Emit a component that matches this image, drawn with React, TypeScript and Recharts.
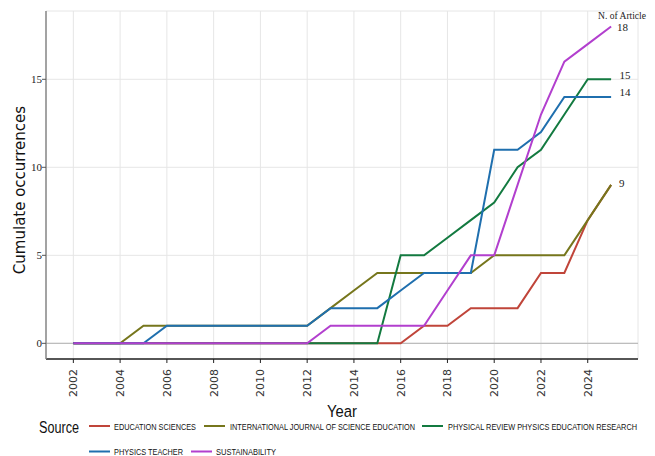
import {
  CartesianGrid,
  Customized,
  LabelList,
  Legend,
  Line,
  LineChart,
  ReferenceLine,
  XAxis,
  YAxis,
} from "recharts";

const years = [
  2002, 2003, 2004, 2005, 2006, 2007, 2008, 2009, 2010, 2011, 2012, 2013, 2014, 2015, 2016, 2017, 2018,
  2019, 2020, 2021, 2022, 2023, 2024, 2025,
];

const educationSciences = [0, 0, 0, 0, 0, 0, 0, 0, 0, 0, 0, 0, 0, 0, 0, 1, 1, 2, 2, 2, 4, 4, 7, 9];
const intJournalSciEd = [0, 0, 0, 1, 1, 1, 1, 1, 1, 1, 1, 2, 3, 4, 4, 4, 4, 4, 5, 5, 5, 5, 7, 9];
const physRevPhysEd = [0, 0, 0, 0, 0, 0, 0, 0, 0, 0, 0, 0, 0, 0, 5, 5, 6, 7, 8, 10, 11, 13, 15, 15];
const physicsTeacher = [0, 0, 0, 0, 1, 1, 1, 1, 1, 1, 1, 2, 2, 2, 3, 4, 4, 4, 11, 11, 12, 14, 14, 14];
const sustainability = [0, 0, 0, 0, 0, 0, 0, 0, 0, 0, 0, 1, 1, 1, 1, 1, 3, 5, 5, 9, 13, 16, 17, 18];

const xTicks = [2002, 2004, 2006, 2008, 2010, 2012, 2014, 2016, 2018, 2020, 2022, 2024];
const yTicks = [0, 5, 10, 15];

const data = years.map((year, i) => ({
  year,
  edu: educationSciences[i],
  ijse: intJournalSciEd[i],
  prper: physRevPhysEd[i],
  pt: physicsTeacher[i],
  sust: sustainability[i],
}));

// legend layout (swatch start x, text start x, text width, row)
const legendLayout = [
  { sx: 89, tx: 114, tw: 82, row: 0 },
  { sx: 204, tx: 230, tw: 185, row: 0 },
  { sx: 422, tx: 448, tw: 189, row: 0 },
  { sx: 89, tx: 114, tw: 69, row: 1 },
  { sx: 191, tx: 216, tw: 60, row: 1 },
];
const squeeze = 0.7;

const serif = "'Liberation Serif', 'Times New Roman', serif";
const narrow = "'Liberation Sans Narrow', 'Liberation Sans', Arial, sans-serif";

const XTick = ({ x, y, payload }: any) => (
  <text
    transform={`translate(${x + 4},${y + 4}) rotate(-90)`}
    textAnchor="end"
    fontSize={11}
    fontFamily="'DejaVu Sans', sans-serif"
    fill="#333"
  >
    {payload.value}
  </text>
);

const endLabel = (dx: number, dy: number) => (props: any) => {
  const { x, y, value, index } = props;
  if (index !== years.length - 1) return null;
  return (
    <text x={x + dx} y={y + dy} dy="0.35em" fontSize={11} fontFamily={serif} fill="#222">
      {value}
    </text>
  );
};

const renderLegend = (props: any) => {
  const { payload = [] } = props;
  return (
    <svg width={655} height={56} style={{ display: "block" }}>
      <text
        transform={`translate(39,33) scale(0.75,1)`}
        fontSize={16}
        fontFamily={narrow}
        fill="#111"
        textLength={40 / 0.75}
        lengthAdjust="spacingAndGlyphs"
      >
        Source
      </text>
      {payload.map((p: any, i: number) => {
        const l = legendLayout[i];
        if (!l) return null;
        const cy = l.row === 0 ? 26 : 51.5;
        return (
          <g key={p.value}>
            <line x1={l.sx} x2={l.sx + 21} y1={cy} y2={cy} stroke={p.color} strokeWidth={2} />
            <text
              transform={`translate(${l.tx},${cy + 3.6}) scale(${squeeze},1)`}
              fontSize={9.5}
              fontFamily={narrow}
              fill="#111"
              textLength={l.tw / squeeze}
              lengthAdjust="spacingAndGlyphs"
            >
              {p.value}
            </text>
          </g>
        );
      })}
    </svg>
  );
};

export default function App() {
  return (
    <div style={{ width: 655, height: 456, background: "#fff", position: "relative" }}>
      <style>{"body{margin:0}"}</style>
      <LineChart width={655} height={456} data={data} margin={{ top: 11, right: 17, left: 0, bottom: 57 }}>
        <CartesianGrid stroke="#e6e6e6" strokeWidth={1} />
        <XAxis
          dataKey="year"
          type="number"
          domain={[2000.83, 2026.15]}
          ticks={xTicks}
          allowDataOverflow
          height={40}
          tick={<XTick />}
          tickSize={4}
          stroke="#222"
          axisLine={{ stroke: "#222", strokeWidth: 1.3 }}
          tickLine={{ stroke: "#222" }}
          label={{
            content: () => (
              <text
                transform="translate(327,417) scale(0.85,1)"
                fontSize={17}
                fontFamily={narrow}
                fill="#111"
                textLength={30 / 0.85}
                lengthAdjust="spacingAndGlyphs"
              >
                Year
              </text>
            ),
          }}
        />
        <YAxis
          type="number"
          domain={[-0.89, 18.88]}
          ticks={yTicks}
          allowDataOverflow
          width={46}
          tickSize={4}
          tickMargin={0}
          tick={{ fontSize: 11, fontFamily: serif, fill: "#222" }}
          axisLine={{ stroke: "#888", strokeWidth: 1.5 }}
          tickLine={{ stroke: "#555" }}
          label={{
            content: () => (
              <text
                transform="translate(25,190) rotate(-90)"
                textAnchor="middle"
                fontSize={15}
                fontFamily="'DejaVu Sans', sans-serif"
                fill="#111"
              >
                Cumulate occurrences
              </text>
            ),
          }}
        />
        <ReferenceLine y={0} stroke="#bdbdbd" strokeWidth={1.3} />
        <Legend
          content={renderLegend}
          layout="horizontal"
          verticalAlign="middle"
          align="center"
          wrapperStyle={{ left: 0, top: 400, width: 655, height: 56 }}
        />
        <Line
          dataKey="edu"
          name="EDUCATION SCIENCES"
          stroke="#c0453a"
          strokeWidth={2}
          dot={false}
          isAnimationActive={false}
        />
        <Line
          dataKey="ijse"
          name="INTERNATIONAL JOURNAL OF SCIENCE EDUCATION"
          stroke="#76761c"
          strokeWidth={2}
          dot={false}
          isAnimationActive={false}
        >
          <LabelList dataKey="ijse" content={endLabel(8, -2)} />
        </Line>
        <Line
          dataKey="prper"
          name="PHYSICAL REVIEW PHYSICS EDUCATION RESEARCH"
          stroke="#137a40"
          strokeWidth={2}
          dot={false}
          isAnimationActive={false}
        >
          <LabelList dataKey="prper" content={endLabel(8.5, -4)} />
        </Line>
        <Line
          dataKey="pt"
          name="PHYSICS TEACHER"
          stroke="#1f6fae"
          strokeWidth={2}
          dot={false}
          isAnimationActive={false}
        >
          <LabelList dataKey="pt" content={endLabel(8.5, -5)} />
        </Line>
        <Line
          dataKey="sust"
          name="SUSTAINABILITY"
          stroke="#b23fce"
          strokeWidth={2}
          dot={false}
          isAnimationActive={false}
        >
          <LabelList dataKey="sust" content={endLabel(6, 0.5)} />
        </Line>
        <Customized
          component={() => (
            <text
              transform="translate(598,15) scale(0.85,1)"
              dy="0.35em"
              fontSize={10}
              fontFamily={serif}
              fill="#222"
              textLength={48 / 0.85}
              lengthAdjust="spacingAndGlyphs"
            >
              N. of Article
            </text>
          )}
        />
      </LineChart>
    </div>
  );
}
